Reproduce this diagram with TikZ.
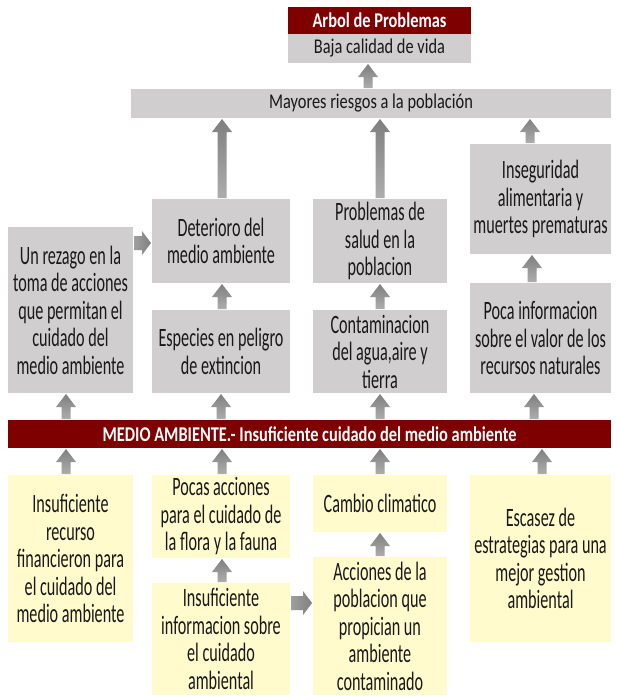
\documentclass[tikz,border=0pt]{standalone}
\usepackage{fontspec}
\setmainfont{Carlito}
\newfontfamily\boxf{Carlito}[FakeStretch=0.61]
\newfontfamily\headf{Carlito}[FakeStretch=0.78]
\usetikzlibrary{calc}
\definecolor{maroon}{HTML}{7F0000}
\definecolor{boxgray}{HTML}{D0CECE}
\definecolor{boxyellow}{HTML}{FFFBCC}
\definecolor{arrdark}{HTML}{7F7F7F}
\definecolor{arrlight}{HTML}{ADADAD}
\tikzset{
  dims/.style args={#1x#2}{minimum width=#1pt,minimum height=#2pt},
  base/.style={inner sep=0pt,outer sep=0pt,draw=none,align=center,text=black!90},
  gbox/.style={base,fill=boxgray,font=\boxf\fontsize{26.5}{27.5}\selectfont},
  ybox/.style={base,fill=boxyellow,font=\boxf\fontsize{26.5}{27.5}\selectfont},
  hbox/.style={base,fill=boxgray,font=\headf\fontsize{21}{25}\selectfont},
  rbox/.style={base,fill=maroon,text=white,font=\headf\bfseries\fontsize{21}{25}\selectfont},
  vshade/.style={top color=arrdark,bottom color=arrlight,draw=none},
  hshade/.style={left color=arrlight!70!arrdark,right color=arrdark,draw=none},
}
% vertical block arrow: from node (below), to node (above), node giving x, x offset
\newcommand\upblk[4]{%
  \path[vshade] let \p1=(#1.north), \p2=(#2.south), \p3=($(#3.center)+(#4pt,0pt)$) in
  (\x3-4.5pt,\y1+1pt) -- (\x3-4.5pt,\y2-14pt) -- (\x3-10pt,\y2-14pt) -- (\x3,\y2-1pt)
  -- (\x3+10pt,\y2-14pt) -- (\x3+4.5pt,\y2-14pt) -- (\x3+4.5pt,\y1+1pt) -- cycle;}
% horizontal block arrow: from node (left), to node (right), node giving y, y offset (up)
\newcommand\rtblk[4]{%
  \path[hshade] let \p1=(#1.east), \p2=(#2.west), \p3=($(#3.center)+(0pt,#4pt)$) in
  (\x1+1pt,\y3-7pt) -- (\x2-10pt,\y3-7pt) -- (\x2-10pt,\y3-12pt) -- (\x2-1pt,\y3)
  -- (\x2-10pt,\y3+12pt) -- (\x2-10pt,\y3+7pt) -- (\x1+1pt,\y3+7pt) -- cycle;}
\begin{document}
\begin{tikzpicture}[x=1pt,y=-1pt]
\fill[white] (0,0) rectangle (619,696);
\useasboundingbox (0,0) rectangle (619,696);

\node[rbox,dims=183x27] (arbol) at (379.5,20.5) {Arbol de Problemas};
\node[hbox,dims=183x29] (baja) at (379.5,48.5) {Baja calidad de vida};
\node[hbox,dims=480x29] (mayores) at (371,103.5) {Mayores riesgos a la población};

\node[gbox,dims=138x84] (deterioro) at (221,241) {Deterioro del\\medio ambiente};
\node[gbox,dims=134x84] (problemas) at (380,241) {Problemas de\\salud en la\\poblacion};
\node[gbox,dims=141x110] (inseg) at (540.5,199) {Inseguridad\\alimentaria y\\muertes prematuras};
\node[gbox,dims=125x166] (rezago) at (70.5,310) {Un rezago en la\\toma de acciones\\que permitan el\\cuidado del\\medio ambiente};
\node[gbox,dims=138x83] (especies) at (221,351.5) {Especies en peligro\\de extincion};
\node[gbox,dims=134x83] (contam) at (380,351.5) {Contaminacion\\del agua,aire y\\tierra};
\node[gbox,dims=141x110] (poca) at (540.5,338) {Poca informacion\\sobre el valor de los\\recursos naturales};

\node[rbox,dims=603x28] (bar) at (309.5,434) {MEDIO AMBIENTE.- Insuficiente cuidado del medio ambiente};

\node[ybox,dims=125x167] (recurso) at (70.5,558.5) {Insuficiente\\recurso\\financieron para\\el cuidado del\\medio ambiente};
\node[ybox,dims=138x83] (pocas) at (221,516.5) {Pocas acciones\\para el cuidado de\\la flora y la fauna};
\node[ybox,dims=134x57] (cambio) at (380,503.5) {Cambio climatico};
\node[ybox,dims=141x167] (escasez) at (540.5,558.5) {Escasez de\\estrategias para una\\mejor gestion\\ambiental};
\node[ybox,dims=138x112] (infor) at (221,639) {Insuficiente\\informacion sobre\\el cuidado\\ambiental};
\node[ybox,dims=134x138] (acciones) at (380,626) {Acciones de la\\poblacion que\\propician un\\ambiente\\contaminado};

\upblk{mayores}{baja}{baja}{-11.5}
\upblk{deterioro}{mayores}{deterioro}{1}
\upblk{problemas}{mayores}{problemas}{0}
\upblk{inseg}{mayores}{inseg}{-10.5}
\upblk{especies}{deterioro}{especies}{1}
\upblk{contam}{problemas}{contam}{0}
\upblk{poca}{inseg}{poca}{-8.5}
\upblk{bar}{rezago}{rezago}{-4.5}
\upblk{bar}{especies}{especies}{0}
\upblk{bar}{contam}{contam}{0}
\upblk{bar}{poca}{poca}{-6.5}
\upblk{recurso}{bar}{recurso}{-4.5}
\upblk{pocas}{bar}{pocas}{1}
\upblk{cambio}{bar}{cambio}{0}
\upblk{escasez}{bar}{escasez}{1.5}
\upblk{infor}{pocas}{infor}{1}
\upblk{acciones}{cambio}{acciones}{0}
\rtblk{rezago}{deterioro}{deterioro}{-2}
\rtblk{infor}{acciones}{acciones}{23}
\end{tikzpicture}
\end{document}
